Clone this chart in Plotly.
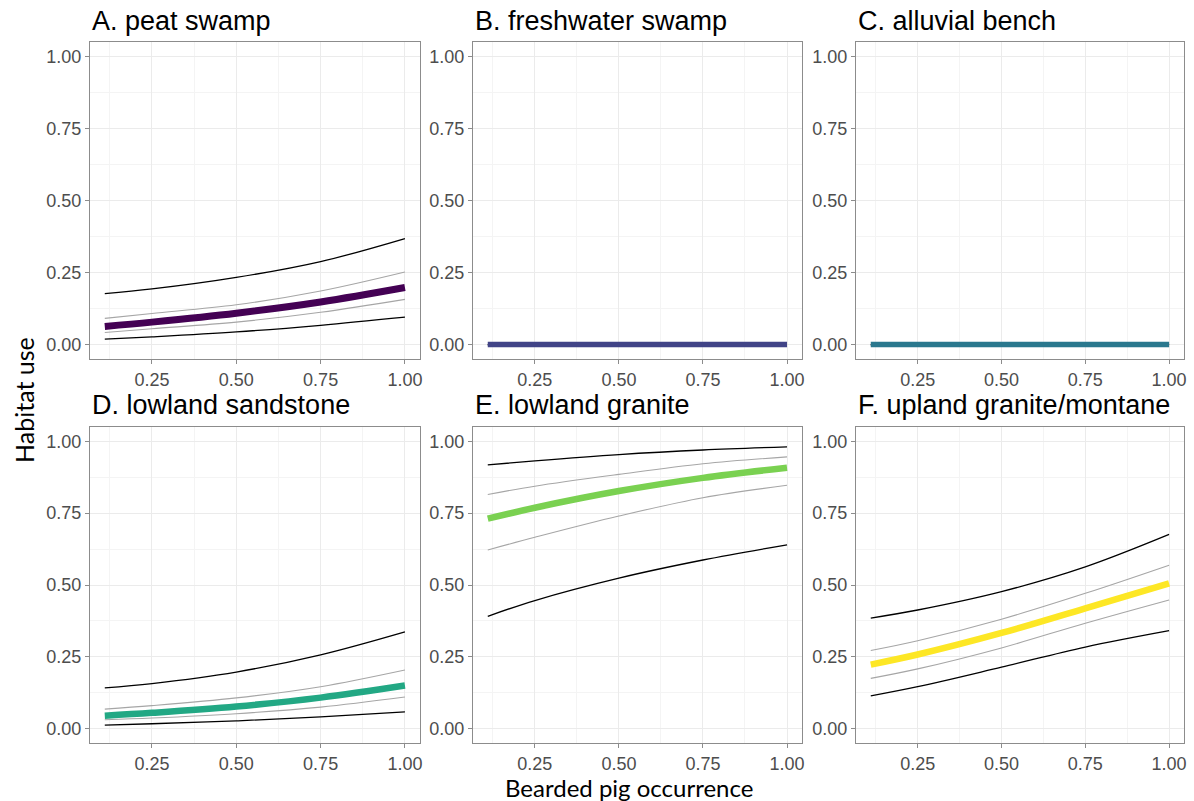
import plotly.graph_objects as go

# ---------------- data ----------------
x_vals = [0.11, 0.25, 0.50, 0.75, 1.00]

panel_titles = ["A. peat swamp", "B. freshwater swamp", "C. alluvial bench",
                "D. lowland sandstone", "E. lowland granite", "F. upland granite/montane"]
mean_colors = ["#440154", "#414487", "#2A788E", "#22A884", "#7AD151", "#FDE725"]

# mean habitat use
mean_A = [0.063, 0.078, 0.109, 0.148, 0.198]
mean_B = [0.0, 0.0, 0.0, 0.0, 0.0]
mean_C = [0.0, 0.0, 0.0, 0.0, 0.0]
mean_D = [0.045, 0.055, 0.077, 0.108, 0.150]
mean_E = [0.731, 0.769, 0.827, 0.873, 0.908]
mean_F = [0.223, 0.258, 0.333, 0.419, 0.506]

# inner interval (grey)
inner_lo_A = [0.042, 0.055, 0.078, 0.112, 0.157]
inner_hi_A = [0.091, 0.108, 0.138, 0.186, 0.252]
inner_lo_B = [0.0, 0.0, 0.0, 0.0, 0.0]
inner_hi_B = [0.0, 0.0, 0.0, 0.0, 0.0]
inner_lo_C = [0.0, 0.0, 0.0, 0.0, 0.0]
inner_hi_C = [0.0, 0.0, 0.0, 0.0, 0.0]
inner_lo_D = [0.031, 0.037, 0.052, 0.075, 0.110]
inner_hi_D = [0.068, 0.080, 0.107, 0.146, 0.204]
inner_lo_E = [0.622, 0.666, 0.740, 0.804, 0.847]
inner_hi_E = [0.815, 0.844, 0.885, 0.922, 0.946]
inner_lo_F = [0.175, 0.208, 0.281, 0.367, 0.448]
inner_hi_F = [0.272, 0.306, 0.381, 0.471, 0.569]

# outer interval (black)
outer_lo_A = [0.019, 0.027, 0.044, 0.067, 0.095]
outer_hi_A = [0.177, 0.193, 0.233, 0.288, 0.368]
outer_lo_B = [0.0, 0.0, 0.0, 0.0, 0.0]
outer_hi_B = [0.0, 0.0, 0.0, 0.0, 0.0]
outer_lo_C = [0.0, 0.0, 0.0, 0.0, 0.0]
outer_hi_C = [0.0, 0.0, 0.0, 0.0, 0.0]
outer_lo_D = [0.012, 0.017, 0.027, 0.041, 0.058]
outer_hi_D = [0.142, 0.157, 0.197, 0.257, 0.337]
outer_lo_E = [0.391, 0.446, 0.524, 0.587, 0.640]
outer_hi_E = [0.918, 0.932, 0.954, 0.970, 0.981]
outer_lo_F = [0.114, 0.146, 0.214, 0.284, 0.341]
outer_hi_F = [0.385, 0.413, 0.477, 0.563, 0.676]

x_ticks = [0.25, 0.50, 0.75, 1.00]
x_ticktext = ["0.25", "0.50", "0.75", "1.00"]
y_ticks = [0.0, 0.25, 0.50, 0.75, 1.00]
y_ticktext = ["0.00", "0.25", "0.50", "0.75", "1.00"]

panels = [
    (mean_A, inner_lo_A, inner_hi_A, outer_lo_A, outer_hi_A),
    (mean_B, inner_lo_B, inner_hi_B, outer_lo_B, outer_hi_B),
    (mean_C, inner_lo_C, inner_hi_C, outer_lo_C, outer_hi_C),
    (mean_D, inner_lo_D, inner_hi_D, outer_lo_D, outer_hi_D),
    (mean_E, inner_lo_E, inner_hi_E, outer_lo_E, outer_hi_E),
    (mean_F, inner_lo_F, inner_hi_F, outer_lo_F, outer_hi_F),
]
mean_widths = [7, 5.5, 5.5, 6.5, 6.5, 6.5]

# ---------------- layout geometry ----------------
W, H = 1194, 801
col_px = [(90, 421), (474, 804), (858, 1187)]
row_px = [(42, 359), (427, 743)]
title_y_px = [21, 405]

fig = go.Figure()
layout = dict(width=W, height=H, margin=dict(l=0, r=0, t=0, b=0),
              paper_bgcolor="white", plot_bgcolor="white", showlegend=False,
              annotations=[])

tick_font = dict(family="Liberation Sans, Arial", size=18, color="#4D4D4D")
axis_common = dict(showline=True, mirror=True, linecolor="#8C8C8C", linewidth=1,
                   ticks="outside", ticklen=4, tickcolor="#8C8C8C", tickwidth=1,
                   gridcolor="#EBEBEB", gridwidth=1, zeroline=False,
                   tickfont=tick_font, fixedrange=True)

for i, (mean, ilo, ihi, olo, ohi) in enumerate(panels):
    r, c = divmod(i, 3)
    idx = "" if i == 0 else str(i + 1)
    xa, ya = "x" + idx, "y" + idx
    x0, x1 = col_px[c]
    y0, y1 = row_px[r]
    layout["xaxis" + idx] = dict(axis_common, domain=[x0 / W, x1 / W], anchor=ya,
                                 range=[0.0655, 1.0445], tickvals=x_ticks, ticktext=x_ticktext,
                                 minor=dict(tickvals=[0.125, 0.375, 0.625, 0.875],
                                            showgrid=True, gridcolor="#F4F4F4", gridwidth=1,
                                            ticks=""))
    layout["yaxis" + idx] = dict(axis_common, domain=[1 - y1 / H, 1 - y0 / H], anchor=xa,
                                 range=[-0.05, 1.05], tickvals=y_ticks, ticktext=y_ticktext,
                                 minor=dict(tickvals=[0.125, 0.375, 0.625, 0.875],
                                            showgrid=True, gridcolor="#F4F4F4", gridwidth=1,
                                            ticks=""))
    for series, col, wd in [(olo, "black", 1.3), (ohi, "black", 1.3),
                            (ilo, "#A6A6A6", 1.1), (ihi, "#A6A6A6", 1.1),
                            (mean, mean_colors[i], mean_widths[i])]:
        fig.add_trace(go.Scatter(x=x_vals, y=series, mode="lines", xaxis=xa, yaxis=ya,
                                 line=dict(color=col, width=wd, shape="spline", smoothing=1.0),
                                 hoverinfo="skip"))
    layout["annotations"].append(dict(text=panel_titles[i], xref="paper", yref="paper",
                                      x=x0 / W, y=1 - title_y_px[r] / H, xanchor="left",
                                      yanchor="middle", showarrow=False,
                                      font=dict(family="Liberation Sans, Arial", size=27,
                                                color="black")))

layout["annotations"].append(dict(text="Bearded pig occurrence", xref="paper", yref="paper",
                                  x=631 / W, y=1 - 787 / H, xanchor="center", yanchor="middle",
                                  showarrow=False,
                                  font=dict(family="Lato", size=24, color="black")))
layout["annotations"].append(dict(text="Habitat use", xref="paper", yref="paper",
                                  x=24 / W, y=1 - 400 / H, xanchor="center", yanchor="middle",
                                  textangle=-90, showarrow=False,
                                  font=dict(family="Lato", size=25, color="black")))

fig.update_layout(**layout)
fig.write_html("out.html")
